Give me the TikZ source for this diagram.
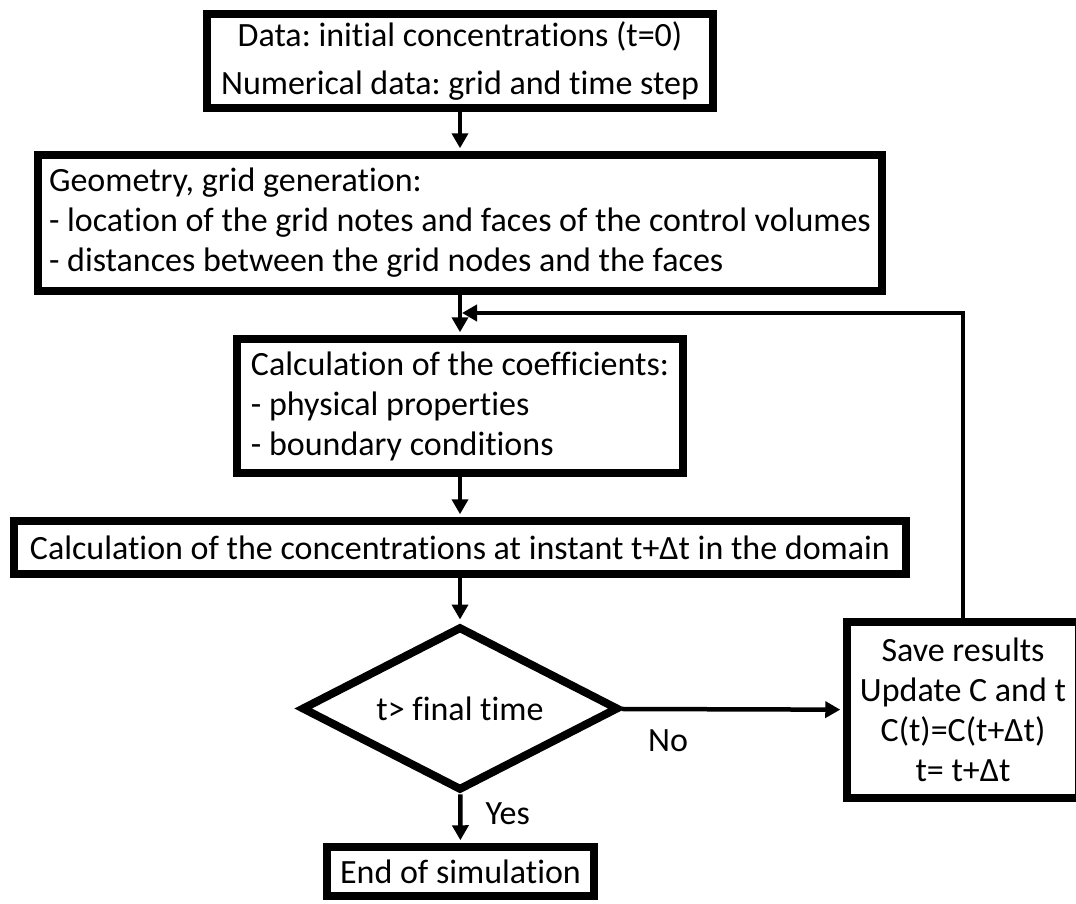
\documentclass[tikz,border=0pt]{standalone}
\usepackage{fontspec}
\setmainfont{Carlito}[Ligatures=NoCommon]
\usetikzlibrary{shapes.geometric,arrows.meta,positioning,calc}
\frenchspacing

\tikzset{
  stepbox/.style={draw, line width=7.5pt, inner sep=3pt,
    font=\fontsize{34}{40}\selectfont},
  testbox/.style={draw, diamond, aspect=2, line width=8pt, inner sep=0pt,
    font=\fontsize{34}{40}\selectfont},
  flow/.style={-{Triangle[length=15pt,width=16pt]}, line width=4.5pt, shorten >=3pt},
  lbl/.style={font=\fontsize{34}{40}\selectfont, inner sep=3pt}
}

\begin{document}
\begin{tikzpicture}[x=1pt, y=-1pt]
  \clip (0,0) rectangle (1076,903);
  \fill[white] (0,0) rectangle (1076,903);

  % main column
  \node[stepbox, align=center, minimum width=506pt, minimum height=94pt,
        font=\fontsize{34}{48}\selectfont] (data) at (460,61)
    {Data: initial concentrations (t=0)\\Numerical data: grid and time step};
  \node[stepbox, align=left, minimum width=844pt, minimum height=136pt] (geo) at (460,223)
    {Geometry, grid generation:\\- location of the grid notes and faces of the control volumes\\- distances between the grid nodes and the faces};
  \node[stepbox, align=left, minimum width=446pt, minimum height=134pt] (coef) at (460,406)
    {Calculation of the coefficients:\\- physical properties\\- boundary conditions};
  \node[stepbox, minimum width=892pt, minimum height=53pt] (conc) at (460,547.5)
    {Calculation of the concentrations at instant t+Δt in the domain};
  \node[testbox, minimum width=317pt, minimum height=164pt] (test) at (460,708.5)
    {t> final time};
  \node[stepbox, minimum width=267pt, minimum height=49pt] (fin) at (460.5,871.5)
    {End of simulation};

  % loop box
  \node[stepbox, align=center, minimum width=232pt, minimum height=176pt] (save) at (963,710)
    {Save results\\Update C and t\\C(t)=C(t+Δt)\\t= t+Δt};

  \coordinate (join) at ($(geo.south)!0.45!(coef.north)$);

  \draw[flow] (data) -- (geo);
  \draw[flow] (geo) -- (coef);
  \draw[flow] (coef) -- (conc);
  \draw[flow] (conc) -- (test);
  \draw[flow] (test) -- node[lbl, pos=0.4, right=20pt] (yes) {Yes} (fin);
  \draw[flow] (test) -- node[lbl, pos=0.21, below=15pt] (no) {No} (save);
  \draw[flow, shorten >=2pt] (save.north) |- (join);
\end{tikzpicture}
\end{document}
